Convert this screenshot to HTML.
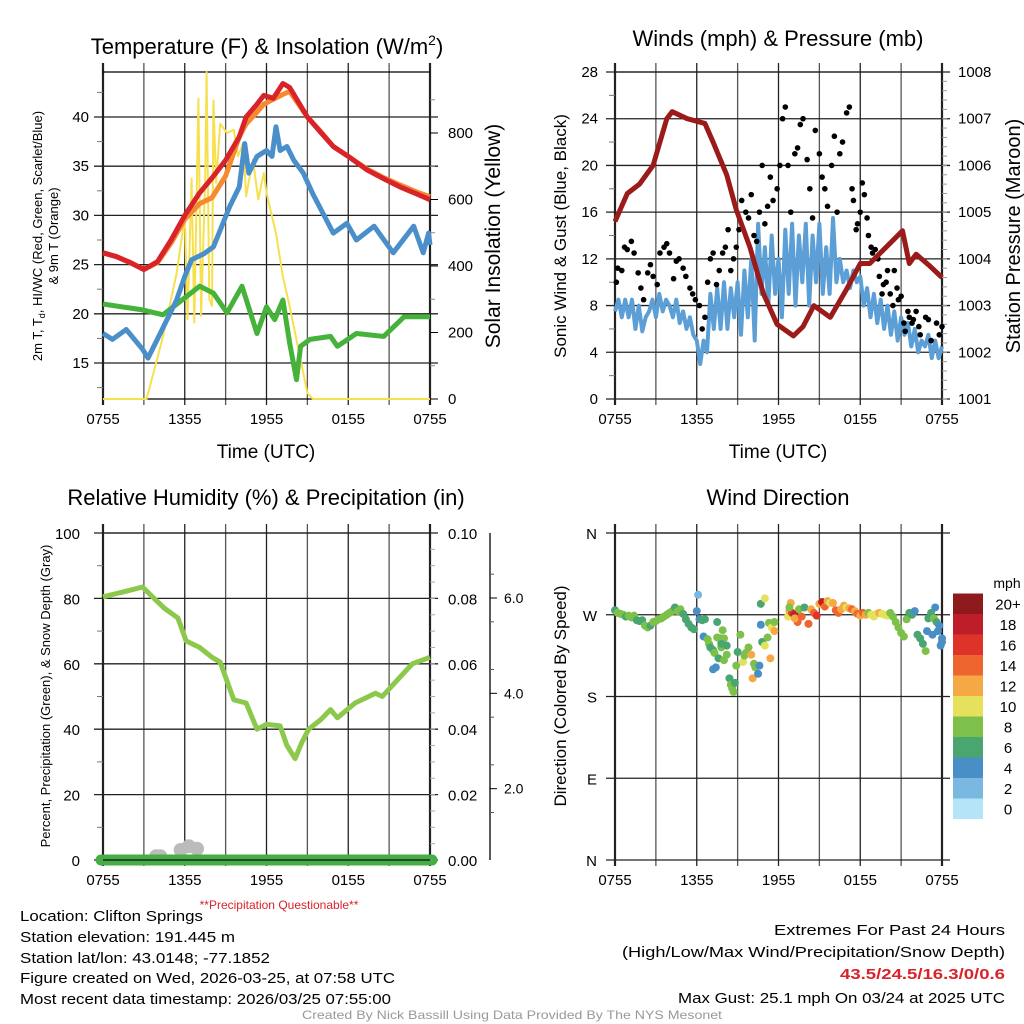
<!DOCTYPE html>
<html><head><meta charset="utf-8"><style>
html,body{margin:0;padding:0;background:#fff;}
svg{display:block;font-family:"Liberation Sans",sans-serif;}
</style></head><body>
<svg id="fig" width="1024" height="1024" viewBox="0 0 1024 1024" xmlns="http://www.w3.org/2000/svg">
<g id="root"></g>
</svg>
<script>
// ---------- DATA ----------
const timeTickLabels = ["0755","1355","1955","0155","0755"];
// Temperature panel (hours since 0755)
const tempHours = [0,1,2,3,4,5,6,7.1,8,9,10,10.5,11.3,11.8,12.5,13.2,13.7,15,16,16.9,18,19.4,20.5,21.8,23,24];
const tempRed   = [26.2,25.8,25.2,24.5,25.3,27.5,30,32.3,33.8,35.6,38,40,41.3,42.2,41.9,43.4,43,40,38.4,37,36,34.6,33.8,32.9,32.2,31.6];
const tempOrange= [26.2,25.8,25.2,24.5,25.2,27.2,29.6,31.2,31.8,34,38,39.3,40.5,41.3,41.8,42.3,42.6,40,38.5,37,36,34.7,33.9,33.1,32.4,31.9];
const dewHours  = [0,0.7,1.7,2.9,3.3,4.2,5.4,6,6.5,7.4,8.1,8.6,9.3,10,10.4,10.7,11.3,12,12.4,12.7,13,13.5,14,14.7,15.4,16.9,17.9,18.6,19.9,21.3,22.8,23.5,23.9,24];
const dewBlue   = [18,17.4,18.4,16.4,15.5,18,21.4,23.8,25.5,26.1,26.8,28.5,30.9,32.9,37.3,34.3,36,36.6,36,39,36.6,37,35.6,34.3,32.2,28.2,29.2,27.5,28.9,26.2,28.9,26.2,28.2,27];
const greenHours= [0,2.9,4.4,5.8,7.1,8.1,9.1,10.2,11.3,12,12.6,13.2,13.7,14.2,14.5,15.2,16.7,17.2,18.6,20.6,22.1,24];
const greenVals = [21,20.4,19.9,21.4,22.8,22.1,20.1,22.8,18,20.7,19.4,21.4,17,13.3,16.7,17.4,17.7,16.7,18,17.7,19.7,19.7];
const solarHours= [0,3.2,4.4,5.4,6,6.2,6.5,6.7,7,7.2,7.5,7.6,7.8,8,8.1,8.3,8.6,9.1,9.6,9.9,10.3,10.5,11,11.4,11.8,12,12.7,13.2,13.7,14.5,15,15.4,24];
const solarVals = [0,0,188,378,548,240,663,230,903,250,660,983,300,280,898,650,828,800,810,730,770,610,720,600,680,620,498,368,278,118,18,0,0];
const tempTicks = [15,20,25,30,35,40];
const solarTicks = [0,200,400,600,800];
// Wind panel (every 0.25 h)
const windVals  = [7.5,8.5,7,8.5,7,8.5,6,8,5.8, 7,7.5,8.5,7,9,7.5,8.5,8, 7,8.5,6.5,7.5,6,7,5.5,5, 3,5,4,9,6,9.5,6,10, 6,9.5,7,10,5.5,11,7,12, 5,15,9,13,8,14,9,12, 7,14.5,9,15,8,14,10,15, 8,14,10,15,9,13,9,15.5, 10,12,10,11,9.5,11,10,10.5, 8,9.5,7,9,6.5,8.5,6,8, 5.5,7.5,5,7,5.5,6.5,4.5,6, 4,5,4.5,5.5,3.5,5,3.5,4.5];
const windHours = windVals.map((v,i)=>i*0.25);
const gustHours = [0.1,0.2,0.5,0.7,0.9,1.2,1.4,1.7,1.9,2.1,2.4,2.6,2.8,3.1,3.3,3.6,3.8,4.0,4.3,4.5,4.7,5.0,5.2,5.5,5.7,5.9,6.2,6.4,6.6,6.8,7.0,7.2,7.45,7.65,7.9,8.1,8.3,8.5,8.7,8.9,9.1,9.3,9.6,9.8,10.0,10.2,10.4,10.6,10.8,11.0,11.2,11.4,11.6,11.9,12.1,12.3,12.5,12.7,12.9,13.2,13.4,13.6,13.8,14.1,14.3,14.5,14.7,15.0,15.2,15.4,15.6,15.9,16.1,16.3,16.5,16.7,17.0,17.2,17.4,17.5,17.7,17.8,18.0,18.15,18.3,18.5,18.6,18.8,18.9,19.1,19.3,19.4,19.6,19.7,19.9,20.0,20.2,20.4,20.5,20.7,20.8,21.0,21.2,21.3,21.5,21.6,21.8,21.9,22.1,22.3,22.4,22.8,23.0,23.2,23.6,23.8,24];
const gustVals  = [10,11.2,11,13,12.8,13.5,12.5,10.8,9.5,8.5,10.8,11.5,10.5,9.8,12.5,13,13.3,12.5,10.3,11.8,12,11.2,10.5,9.5,9,8.5,8,6,7,10,12,12.5,9.8,11,12.5,13,14.5,11,12,13,14.5,17,16,15.5,17.5,14,13.5,16,20,15,16.5,19,17,18,20,24,25,20,16,21,21.5,23.5,24,20.5,18,15.5,23,21,19,18,16.5,20,22.5,16,21,22,24.5,25,18,17,14.5,15,16,18.5,17.5,15.5,14,13,12.5,12.8,12,10.5,9,9.8,10,11,9,8,11,9.5,8.5,8.8,6.5,5.8,7.5,7,6.5,6.8,7.5,6.2,5.5,7,6.8,5,6.5,5.5,6.2];
const presHours = [0,0.9,1.8,2.8,3.8,4.2,5.3,6.6,7.2,8.2,8.9,9.9,10.9,11.9,13.1,13.8,14.6,15.8,17,18,18.7,19.9,21.1,21.6,22.1,23.1,24];
const presVals  = [1004.8,1005.4,1005.6,1006.0,1007.0,1007.15,1007.0,1006.9,1006.5,1005.8,1005.05,1004.25,1003.25,1002.6,1002.35,1002.55,1003.0,1002.75,1003.35,1003.9,1003.9,1004.25,1004.6,1003.9,1004.1,1003.85,1003.6];
const windTicks = [0,4,8,12,16,20,24,28];
const presTicks = [1001,1002,1003,1004,1005,1006,1007,1008];
// Humidity panel
const rhHours = [0,1,2,2.9,3.5,4.5,5.5,6.1,7.1,8,8.6,9.6,10.5,11.3,12,13,13.5,14.1,14.6,15.1,16,16.7,17.2,18.5,20,20.5,21.6,22.7,24];
const rhVals  = [80.5,81.5,82.5,83.5,81,77,74,67,65,62,60.5,49,48,40,41.5,41,35,31,36,40,43,46,43.5,48,51,50,55,60,62];
const snowHours = [3.9,4.2,5.7,6.3,6.9];
const snowVals  = [0.15,0.15,0.4,0.55,0.45];
const rhTicks = [0,20,40,60,80,100];
const precipTicks = ["0.00","0.02","0.04","0.06","0.08","0.10"];
const snowTicks = ["2.0","4.0","6.0"];
// Wind direction panel
const dirHours = [0,0.2,0.4,0.6,0.8,1,1.2,1.4,1.6,1.8,2,2.2,2.4,2.6,2.8,3,3.2,3.4,3.6,3.8,4,4.2,4.4,4.6,4.8,5,5.2,5.4,5.6,5.8,6,6.1,6.2,6.4,6.5,6.6,6.8,6.9,7,7.2,7.3,7.5,7.7,7.9,7.2,7.4,7.6,7.8,8.0,8.2,8.2,7.8,7.5,8.0,8.4,8.5,8.6,8.7,8.8,8.9,9.0,9.2,9.4,9.5,9.6,9.8,10.0,10.1,10.2,10.3,10.5,10.6,10.7,10.8,11.0,11.2,11.4,10.7,11.0,11.3,11.5,11.7,11.7,12.7,12.8,12.9,13,13.2,13.4,13.2,12.8,13.5,13.7,13.9,14.2,14.4,14.6,14.8,15,15.2,15.4,15.6,15.8,16,16.2,16.4,16.6,16.8,17,17.2,17.4,17.6,17.8,18,18.2,18.4,18.6,18.8,19,19.2,19.4,19.6,19.8,20,20.2,20.4,20.6,20.8,21,21.2,21.4,21.6,21.8,22,22.2,22.4,22.6,22.8,23,23.2,23.4,23.6,23.8,24,23.5,23.7,23.9,24,22.9,23.3];
const dirVals  = [275,272,271,270,268,269,267,269,264,263,264,258,256,258,262,263,265,266,268,270,272,274,278,274,276,271,265,260,256,254,274,292,265,264,246,265,243,238,234,231,228,262,244,253,210,212,222,234,244,236,226,238,245,220,200,193,189,185,195,214,229,248,218,225,228,234,226,200,216,212,205,214,259,240,236,245,222,282,288,261,256,262,252,268,274,283,272,270,262,266,278,276,268,278,260,276,272,269,282,284,279,285,283,283,275,272,276,280,278,277,276,274,271,269,272,270,272,270,268,271,272,271,270,269,272,268,262,256,250,246,265,272,270,274,248,244,238,230,266,272,266,262,258,244,278,252,236,240,252,248];
const dirSpeed = [6,8,8,8,6,8,8,8,6,6,6,8,8,6,8,8,8,8,8,8,8,8,6,8,8,6,6,6,6,6,4,2,4,6,4,6,8,8,6,6,8,6,6,8,4,4,6,8,8,6,8,6,8,8,6,8,8,8,6,8,6,8,10,8,8,8,12,12,8,8,4,4,4,6,10,8,12,6,10,8,10,8,12,10,12,12,16,18,14,12,8,8,14,6,14,12,14,16,12,18,14,12,10,12,14,14,12,12,10,12,14,12,14,12,14,12,8,10,10,10,12,10,10,10,8,8,8,8,8,8,8,6,6,4,6,6,6,8,6,6,8,6,4,4,4,4,4,4,4,4,4];
const dirTicks = ["N","E","S","W","N"];
const speedLevels = ["0","2","4","6","8","10","12","14","16","18","20+"];
const speedColors = ["#b5e3f7","#7ab8e2","#4a8ec6","#4aa671","#7dc04a","#e5e15c","#f6a845","#ef6530","#de3328","#bd1e27","#8f1a1e"];

// ---------- DRAWING ----------
const NS="http://www.w3.org/2000/svg";
const root=document.getElementById('root');
function mk(tag,attrs,parent,txt){const e=document.createElementNS(NS,tag);for(const k in attrs)e.setAttribute(k,attrs[k]);if(txt!==undefined)e.textContent=txt;(parent||root).appendChild(e);return e;}
function lin(d0,d1,r0,r1){return v=>r0+(v-d0)*(r1-r0)/(d1-d0);}
function pathFrom(xs,ys,fx,fy){return xs.map((h,i)=>(i?'L':'M')+fx(h).toFixed(1)+','+fy(ys[i]).toFixed(1)).join('');}

const XL=103,XR=430,XL2=615,XR2=942;
const hx1=lin(0,24,XL,XR), hx2=lin(0,24,XL2,XR2);
const TOP1=72,BOT1=399,TOP2=533,BOT2=860;

function frame(x0,x1,y0,y1,hx,name){
  const g=mk('g',{});
  
  
  for(let h=0;h<=24;h+=3){
    const x=hx(h);
    const l=mk('line',{x1:x,x2:x,y1:y0-9,y2:y1+6,stroke:(h%6===0)?'#222':'#555','stroke-width':(h===0||h===24)?2.2:1.3},g);
    
    
  }
  const tl=mk('line',{x1:x0,x2:x1,y1:y0,y2:y0,stroke:'#000','stroke-width':1.3},g);
  
  
  for(let i=0;i<timeTickLabels.length;i++){
    const t=mk('text',{x:hx(i*6),y:y1+25,'font-size':15,'text-anchor':'middle'},g,timeTickLabels[i]);
    
    
  }
  return g;
}
function hgrid(y,x0,x1,name,col){
  const l=mk('line',{x1:x0-9,x2:x1+8,y1:y,y2:y,stroke:col||'#222','stroke-width':1.3});
  
  
}
function txt(x,y,s,size,attrs,name){
  const a=Object.assign({x:x,y:y,'font-size':size},attrs||{});
  const t=mk('text',a,root,s);
  
  
  return t;
}

// ===== Panel 1: Temperature =====
const ty=lin(15,40,363,117), sy=lin(0,800,BOT1,133);
frame(XL,XR,TOP1,BOT1,hx1,'temperature');
tempTicks.forEach(v=>{hgrid(ty(v),XL,XR,'temp-gridline');txt(XL-14,ty(v)+5,String(v),15,{'text-anchor':'end'},'temp-y-tick-label');});
for(let v=12.5;v<=44;v+=5){const l=mk('line',{x1:XL-6,x2:XL,y1:ty(v),y2:ty(v),stroke:'#777'});}
solarTicks.forEach(v=>{const l=mk('line',{x1:XR,x2:XR+8,y1:sy(v),y2:sy(v),stroke:'#000'});txt(XR+18,sy(v)+5,String(v),15,{},'solar-y-tick-label');});
for(let v=100;v<=950;v+=200){const l=mk('line',{x1:XR,x2:XR+5,y1:sy(v),y2:sy(v),stroke:'#888'});}
const bl1=mk('line',{x1:XL,x2:XR,y1:BOT1,y2:BOT1,stroke:'#000','stroke-width':1.2});
let p;
p=mk('path',{d:pathFrom(solarHours,solarVals,hx1,sy),fill:'none',stroke:'#f7e04e','stroke-width':2,'stroke-linejoin':'round'});

p=mk('path',{d:pathFrom(greenHours,greenVals,hx1,ty),fill:'none',stroke:'#45b23a','stroke-width':5,'stroke-linejoin':'round'});

p=mk('path',{d:pathFrom(dewHours,dewBlue,hx1,ty),fill:'none',stroke:'#4a8fca','stroke-width':5,'stroke-linejoin':'round'});

p=mk('path',{d:pathFrom(tempHours,tempOrange,hx1,ty),fill:'none',stroke:'#f58a2f','stroke-width':5,'stroke-linejoin':'round'});

p=mk('path',{d:pathFrom(tempHours,tempRed,hx1,ty),fill:'none',stroke:'#d8232a','stroke-width':5,'stroke-linejoin':'round'});

const t1=txt(267,54,'',22,{'text-anchor':'middle'},'temperature-title');
t1.innerHTML='Temperature (F) &amp; Insolation (W/m<tspan font-size="14" dy="-9">2</tspan><tspan dy="9">)</tspan>';
txt(266,458,'Time (UTC)',19,{'text-anchor':'middle'},'temp-x-axis-title');
const ya1=txt(0,0,'',13,{'text-anchor':'middle',transform:'translate(42,236) rotate(-90)'},'temp-y-axis-title');
ya1.innerHTML='2m T, T<tspan font-size="9" dy="3">d</tspan><tspan dy="-3">, HI/WC (Red, Green, Scarlet/Blue)</tspan>';
txt(0,0,'& 9m T (Orange)',13,{'text-anchor':'middle',transform:'translate(58,236) rotate(-90)'},'temp-y-axis-title-line2');
txt(0,0,'Solar Insolation (Yellow)',21,{'text-anchor':'middle',transform:'translate(500,236) rotate(-90)'},'solar-y-axis-title');

// ===== Panel 2: Winds =====
const wy=lin(0,28,BOT1,TOP1), py=lin(1001,1008,BOT1,TOP1);
frame(XL2,XR2,TOP1,BOT1,hx2,'winds');
windTicks.forEach(v=>{hgrid(wy(v),XL2,XR2,'wind-gridline');txt(XL2-17,wy(v)+5,String(v),15,{'text-anchor':'end'},'wind-y-tick-label');});
for(let v=2;v<28;v+=4){const l=mk('line',{x1:XL2-6,x2:XL2,y1:wy(v),y2:wy(v),stroke:'#777'});}
presTicks.forEach(v=>{txt(XR2+16,py(v)+5,String(v),15,{},'pressure-y-tick-label');});
for(let v=1001;v<=1008;v+=0.2){const l=mk('line',{x1:XR2,x2:XR2+5,y1:py(v),y2:py(v),stroke:'#999'});}
p=mk('path',{d:pathFrom(windHours,windVals,hx2,wy),fill:'none',stroke:'#5b9fd6','stroke-width':4,'stroke-linejoin':'round'});

gustHours.forEach((h,i)=>{const c=mk('circle',{cx:hx2(h),cy:wy(gustVals[i]),r:2.8,fill:'#000'});});
p=mk('path',{d:pathFrom(presHours,presVals,hx2,py),fill:'none',stroke:'#9b1b1b','stroke-width':5,'stroke-linejoin':'round'});

txt(778,46,'Winds (mph) & Pressure (mb)',22,{'text-anchor':'middle'},'winds-title');
txt(778,458,'Time (UTC)',19,{'text-anchor':'middle'},'wind-x-axis-title');
txt(0,0,'Sonic Wind & Gust (Blue, Black)',17,{'text-anchor':'middle',transform:'translate(566,236) rotate(-90)'},'wind-y-axis-title');
txt(0,0,'Station Pressure (Maroon)',20,{'text-anchor':'middle',transform:'translate(1020,236) rotate(-90)'},'pressure-y-axis-title');

// ===== Panel 3: Humidity =====
const ry=lin(0,100,BOT2,TOP2), snowY=lin(0,6,884,598);
frame(XL,XR,TOP2,BOT2,hx1,'humidity');
rhTicks.forEach((v,i)=>{hgrid(ry(v),XL,XR,'rh-gridline');txt(XL-23,ry(v)+6,String(v),15,{'text-anchor':'end'},'rh-y-tick-label');txt(XR+18,ry(v)+6,precipTicks[i],15,{},'precip-y-tick-label');});
for(let v=10;v<100;v+=20){const l=mk('line',{x1:XL-6,x2:XL,y1:ry(v),y2:ry(v),stroke:'#777'});}
for(let v=5;v<100;v+=5){const l=mk('line',{x1:XR,x2:XR+5,y1:ry(v),y2:ry(v),stroke:'#aaa'});}
const sa=mk('line',{x1:490,x2:490,y1:TOP2,y2:BOT2,stroke:'#000','stroke-width':1.3});
snowTicks.forEach(s=>{const v=parseFloat(s);const l=mk('line',{x1:490,x2:497,y1:snowY(v),y2:snowY(v),stroke:'#000'});txt(504,snowY(v)+5,s,14,{},'snow-y-tick-label');});
for(let v=0.5;v<7;v+=1){if(snowY(v)>TOP2&&snowY(v)<BOT2){const l=mk('line',{x1:490,x2:494,y1:snowY(v),y2:snowY(v),stroke:'#555'});}}
const snowBase=lin(0,1,BOT2,BOT2-25);
snowHours.forEach((h,i)=>{const c=mk('circle',{cx:hx1(h),cy:snowBase(snowVals[i]),r:7,fill:'#bbb'});});
p=mk('line',{x1:XL-2,x2:XR+2,y1:BOT2,y2:BOT2,stroke:'#44ae44','stroke-width':11,'stroke-linecap':'round'});

p=mk('line',{x1:XL,x2:XR,y1:BOT2,y2:BOT2,stroke:'#222','stroke-width':1.5});

p=mk('path',{d:pathFrom(rhHours,rhVals,hx1,ry),fill:'none',stroke:'#8cc84b','stroke-width':5,'stroke-linejoin':'round'});

txt(266,505,'Relative Humidity (%) & Precipitation (in)',22,{'text-anchor':'middle'},'humidity-title');
txt(0,0,'Percent, Precipitation (Green), & Snow Depth (Gray)',13,{'text-anchor':'middle',transform:'translate(50,696) rotate(-90)'},'rh-y-axis-title');
txt(279,909,'**Precipitation Questionable**',12,{'text-anchor':'middle',fill:'#d8232a'},'precip-questionable-note');

// ===== Panel 4: Wind direction =====
const dy=lin(0,360,BOT2,TOP2);
frame(XL2,XR2,TOP2,BOT2,hx2,'wind-direction');
dirTicks.forEach((s,i)=>{const v=i*90;hgrid(dy(v),XL2,XR2,'direction-gridline');txt(597,dy(v)+6,s,15,{'text-anchor':'end'},'direction-y-tick-label');});
dirHours.forEach((h,i)=>{const idx=Math.min(10,Math.floor(dirSpeed[i]/2));const c=mk('circle',{cx:hx2(h),cy:dy(dirVals[i]),r:4,fill:speedColors[idx]});});
txt(778,505,'Wind Direction',22,{'text-anchor':'middle'},'wind-direction-title');
txt(0,0,'Direction (Colored By Speed)',17,{'text-anchor':'middle',transform:'translate(566,696) rotate(-90)'},'direction-y-axis-title');
speedLevels.forEach((s,i)=>{const y0=819-(i+1)*20.5;const r=mk('rect',{x:953,y:y0,width:30,height:20.5,fill:speedColors[i]});txt(1008,y0+16,s,15,{'text-anchor':'middle'},'colorbar-label');});
txt(1007,588,'mph',14,{'text-anchor':'middle'},'colorbar-title');

// ===== Info text =====
const info=[["Location: Clifton Springs",921,183],["Station elevation: 191.445 m",942,215],["Station lat/lon: 43.0148; -77.1852",963,250],["Figure created on Wed, 2026-03-25, at 07:58 UTC",983,375],["Most recent data timestamp: 2026/03/25 07:55:00",1004,371]];
info.forEach(a=>txt(20,a[1],a[0],15,{textLength:a[2],lengthAdjust:'spacingAndGlyphs'},'station-info-line'));
txt(1005,935,'Extremes For Past 24 Hours',15,{'text-anchor':'end',textLength:231,lengthAdjust:'spacingAndGlyphs'},'extremes-heading');
txt(1005,957,'(High/Low/Max Wind/Precipitation/Snow Depth)',15,{'text-anchor':'end',textLength:383,lengthAdjust:'spacingAndGlyphs'},'extremes-subheading');
txt(1005,979,'43.5/24.5/16.3/0/0.6',15,{'text-anchor':'end','font-weight':'bold',fill:'#d8232a',textLength:165,lengthAdjust:'spacingAndGlyphs'},'extremes-values');
txt(1005,1003,'Max Gust: 25.1 mph On 03/24 at 2025 UTC',15,{'text-anchor':'end',textLength:327,lengthAdjust:'spacingAndGlyphs'},'max-gust-text');
txt(512,1019,'Created By Nick Bassill Using Data Provided By The NYS Mesonet',12,{'text-anchor':'middle',fill:'#999',textLength:420,lengthAdjust:'spacingAndGlyphs'},'credit-footer');
</script>
</body></html>
